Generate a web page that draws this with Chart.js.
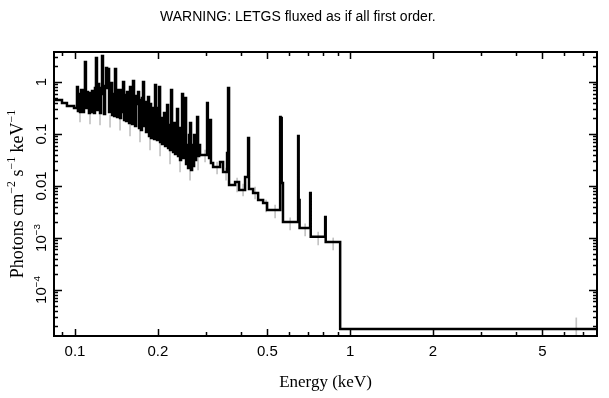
<!DOCTYPE html>
<html>
<head>
<meta charset="utf-8">
<script src="https://cdn.jsdelivr.net/npm/chart.js@4.4.1/dist/chart.umd.min.js"></script>
<style>
  html, body { margin: 0; padding: 0; background: #fff; }
  canvas { display: block; }
</style>
</head>
<body>
<canvas id="spectrum" width="609" height="398"></canvas>
<script>
// bin lower edges (keV); the last entry closes the final bin
const energyEdges = [
    0.0839, 0.0897, 0.0935, 0.0992,
    0.1017, 0.1025, 0.1034, 0.1043, 0.1052, 0.1060, 0.1069, 0.1078, 0.1087, 0.1096,
    0.1106, 0.1115, 0.1124, 0.1134, 0.1143, 0.1153, 0.1163, 0.1172, 0.1182, 0.1192,
    0.1202, 0.1212, 0.1223, 0.1233, 0.1243, 0.1254, 0.1264, 0.1275, 0.1286, 0.1297,
    0.1308, 0.1319, 0.1330, 0.1341, 0.1352, 0.1364, 0.1375, 0.1387, 0.1398, 0.1410,
    0.1422, 0.1434, 0.1446, 0.1458, 0.1470, 0.1483, 0.1495, 0.1508, 0.1520, 0.1533,
    0.1546, 0.1559, 0.1572, 0.1585, 0.1598, 0.1612, 0.1625, 0.1639, 0.1653, 0.1667,
    0.1681, 0.1695, 0.1709, 0.1723, 0.1738, 0.1752, 0.1767, 0.1782, 0.1797, 0.1812,
    0.1827, 0.1843, 0.1858, 0.1874, 0.1890, 0.1905, 0.1921, 0.1938, 0.1954, 0.1970,
    0.1987, 0.2004, 0.2021, 0.2038, 0.2055, 0.2072, 0.2090, 0.2107, 0.2125, 0.2143,
    0.2161, 0.2179, 0.2197, 0.2215, 0.2234, 0.2253, 0.2272, 0.2291, 0.2310, 0.2329,
    0.2349, 0.2369, 0.2389, 0.2409, 0.2429, 0.2450, 0.2470, 0.2491, 0.2512, 0.2533,
    0.2555, 0.2576, 0.2598, 0.2619, 0.2641, 0.2664, 0.2686, 0.2709, 0.2732, 0.2755,
    0.2778, 0.2801, 0.2825, 0.2848,
    0.3020, 0.3040, 0.3071, 0.3097, 0.3120, 0.3176, 0.3367, 0.3453, 0.3570, 0.3600,
    0.3630, 0.3818, 0.3948, 0.4151, 0.4257, 0.4290, 0.4439, 0.4629, 0.4827, 0.4991,
    0.5566, 0.5590, 0.5613, 0.5640, 0.5700, 0.6470, 0.6500, 0.6550, 0.7155, 0.7190,
    0.8113, 0.8150, 0.9197, 8.0
];

// photons cm^-2 s^-1 keV^-1 in each bin
const fluxValues = [
    0.451, 0.395, 0.345, 0.316,
    0.802, 0.277, 0.588, 0.265, 0.702, 0.562, 0.265, 0.702, 2.426, 0.316,
    0.643, 0.471, 0.253, 0.615, 0.265, 0.672, 0.538, 0.253, 0.767, 2.894,
    0.289, 0.915, 0.767, 0.253, 0.702, 3.162, 0.588, 0.242, 0.838, 1.861,
    0.767, 1.778, 0.265, 0.643, 0.957, 0.232, 0.588, 0.222, 1.778, 0.643,
    0.212, 0.702, 0.492, 0.203, 0.702, 0.265, 1.000, 0.186, 0.562, 0.178,
    0.643, 0.451, 0.163, 0.802, 0.492, 0.156, 1.046, 0.538, 0.142, 0.538,
    0.378, 0.643, 0.130, 0.451, 0.119, 0.492, 1.000, 0.142, 0.413, 0.109,
    0.346, 0.515, 0.0915, 0.378, 0.0838, 0.316, 0.289, 0.0802, 0.876, 0.265,
    0.0767, 0.316, 0.802, 0.0702, 0.203, 0.0643, 0.186, 0.253, 0.0588, 0.203,
    0.361, 0.0538, 0.149, 0.0492, 0.702, 0.0838, 0.0451, 0.163, 0.0413, 0.0957,
    0.303, 0.0378, 0.130, 0.0316, 0.0767, 0.588, 0.0346, 0.0957, 0.492, 0.0265,
    0.0615, 0.0222, 0.0957, 0.163, 0.0203, 0.0615, 0.0242, 0.0957, 0.0316, 0.0615,
    0.212, 0.0378, 0.0615, 0.0395,
    0.395, 0.0767, 0.0345, 0.186, 0.0277, 0.0232, 0.0290, 0.0186, 0.0431, 0.767,
    0.0105, 0.0119, 0.00838, 0.0149, 0.0838, 0.00875, 0.00733, 0.00538, 0.00471, 0.00345,
    0.212, 0.0420, 0.203, 0.0114, 0.00203, 0.0915, 0.00538, 0.00156, 0.00733, 0.00105,
    0.00253, 0.000838, 1.78e-5
];

// faint 1-sigma bars that show below the histogram
const errorEnergies = [
    0.1043, 0.1134, 0.1233, 0.1341, 0.1458, 0.1585, 0.1723, 0.1874, 0.2038, 0.2215,
    0.2409, 0.2619, 0.2801, 0.2970, 0.3284, 0.3540, 0.3883, 0.4082, 0.4514, 0.4949,
    0.5337, 0.6052, 0.6862, 0.7652, 0.8676, 6.634
];
const errorLow = [
    0.170, 0.156, 0.149, 0.136, 0.119, 0.0915, 0.0702, 0.0492, 0.0378, 0.0265,
    0.0186, 0.0130, 0.0203, 0.0289, 0.0170, 0.0130, 0.00767, 0.00643, 0.00562, 0.00316,
    0.00243, 0.00143, 0.00109, 0.000733, 0.000588, 1.3e-5
];
const errorHigh = [
    0.289, 0.265, 0.253, 0.232, 0.203, 0.163, 0.130, 0.0915, 0.0702, 0.0492,
    0.0346, 0.0253, 0.0395, 0.0492, 0.0289, 0.0222, 0.01425, 0.01093, 0.00957, 0.00538,
    0.00431, 0.00243, 0.00186, 0.00130, 0.00100, 2.9e-5
];

const xRange = [0.0839, 7.89];
const yRange = [1.3e-5, 3.78];

const xMajorTicks = [0.1, 0.2, 0.5, 1, 2, 5];
const xTickLabels = ["0.1", "0.2", "0.5", "1", "2", "5"];
const xMinorTicks = [0.09, 0.3, 0.4, 0.6, 0.7, 0.8, 0.9, 3, 4, 6, 7];

const yMajorTicks = [1e-4, 1e-3, 0.01, 0.1, 1];
const yTickLabels = [
    [["10", false], ["\u22124", true]],
    [["10", false], ["\u22123", true]],
    [["0.01", false]],
    [["0.1", false]],
    [["1", false]],
];

const points = energyEdges.map((e, i) => ({
    x: e,
    y: fluxValues[Math.min(i, fluxValues.length - 1)],
}));

const errorBars = errorEnergies.map((e, i) => ({
    x: e,
    y: [errorLow[i], errorHigh[i]],
}));

// text with raised small parts, drawn left to right from x
function richWidth(ctx, parts, size, family) {
    let w = 0;
    parts.forEach(([t, sup]) => {
        ctx.font = (sup ? size * 0.66 : size) + "px " + family;
        w += ctx.measureText(t).width;
    });
    return w;
}

function drawRich(ctx, parts, x, y, size, family) {
    let cx = x;
    parts.forEach(([t, sup]) => {
        ctx.font = (sup ? size * 0.66 : size) + "px " + family;
        ctx.fillText(t, cx, sup ? y - size * 0.42 : y);
        cx += ctx.measureText(t).width;
    });
}

const sans = "'Liberation Sans', Arial, Helvetica, sans-serif";
const serif = "'Liberation Serif', 'Times New Roman', serif";

const framePlugin = {
    id: "framePlugin",
    afterDraw: (chart) => {
        const { ctx, chartArea: a, scales } = chart;
        const xs = scales.x;
        const ys = scales.y;
        ctx.save();
        ctx.strokeStyle = "#000";
        ctx.fillStyle = "#000";

        // ticks inside on all four sides
        ctx.lineWidth = 1.5;
        ctx.beginPath();
        const xTick = (v, len) => {
            const px = Math.round(xs.getPixelForValue(v)) + 0.5;
            ctx.moveTo(px, a.bottom);
            ctx.lineTo(px, a.bottom - len);
            ctx.moveTo(px, a.top);
            ctx.lineTo(px, a.top + len);
        };
        const yTick = (v, len) => {
            const py = Math.round(ys.getPixelForValue(v)) + 0.5;
            ctx.moveTo(a.left, py);
            ctx.lineTo(a.left + len, py);
            ctx.moveTo(a.right, py);
            ctx.lineTo(a.right - len, py);
        };
        xMajorTicks.forEach((v) => xTick(v, 7));
        xMinorTicks.forEach((v) => xTick(v, 4));
        for (let p = -5; p <= 0; p++) {
            for (let m = 1; m <= 9; m++) {
                const v = m * Math.pow(10, p);
                if (v < yRange[0] || v > yRange[1]) continue;
                yTick(v, m === 1 ? 8 : 4);
            }
        }
        ctx.stroke();

        ctx.lineWidth = 2;
        ctx.strokeRect(a.left, a.top, a.right - a.left, a.bottom - a.top);

        // x tick labels
        ctx.textBaseline = "alphabetic";
        ctx.textAlign = "center";
        ctx.font = "15px " + sans;
        xMajorTicks.forEach((v, i) => {
            ctx.fillText(xTickLabels[i], xs.getPixelForValue(v), 356);
        });

        // y tick labels, rotated
        ctx.textAlign = "left";
        yMajorTicks.forEach((v, i) => {
            const parts = yTickLabels[i];
            const w = richWidth(ctx, parts, 15, sans);
            ctx.save();
            ctx.translate(46, ys.getPixelForValue(v));
            ctx.rotate(-Math.PI / 2);
            drawRich(ctx, parts, -w / 2, 0, 15, sans);
            ctx.restore();
        });

        // axis titles
        const xTitle = [["Energy (keV)", false]];
        let w = richWidth(ctx, xTitle, 17, serif);
        drawRich(ctx, xTitle, (a.left + a.right) / 2 - w / 2, 387, 17, serif);

        const yTitle = [
            ["Photons cm", false], ["\u22122", true], [" s", false],
            ["\u22121", true], [" keV", false], ["\u22121", true],
        ];
        w = richWidth(ctx, yTitle, 18, serif);
        ctx.save();
        ctx.translate(23, (a.top + a.bottom) / 2);
        ctx.rotate(-Math.PI / 2);
        drawRich(ctx, yTitle, -w / 2, 0, 18, serif);
        ctx.restore();

        // title
        ctx.font = "14px " + sans;
        ctx.fillText("WARNING: LETGS fluxed as if all first order.", 160, 21);
        ctx.restore();
    },
};

const ctx = document.getElementById("spectrum").getContext("2d");
const chart = new Chart(ctx, {
    type: "line",
    data: {
        datasets: [
            {
                data: points,
                stepped: true,
                borderColor: "#000",
                borderWidth: 2.5,
                pointRadius: 0,
                fill: false,
                order: 1,
            },
            {
                type: "bar",
                data: errorBars,
                backgroundColor: "#c4c4c4",
                borderWidth: 0,
                barThickness: 1,
                order: 2,
            },
        ],
    },
    options: {
        responsive: false,
        animation: false,
        devicePixelRatio: 1,
        events: [],
        layout: {
            padding: { left: 54, right: 12, top: 52, bottom: 62 },
        },
        scales: {
            x: {
                type: "logarithmic",
                min: xRange[0],
                max: xRange[1],
                offset: false,
                display: false,
            },
            y: {
                type: "logarithmic",
                min: yRange[0],
                max: yRange[1],
                display: false,
            },
        },
        plugins: {
            legend: { display: false },
            tooltip: { enabled: false },
        },
    },
    plugins: [framePlugin],
});
</script>
</body>
</html>
